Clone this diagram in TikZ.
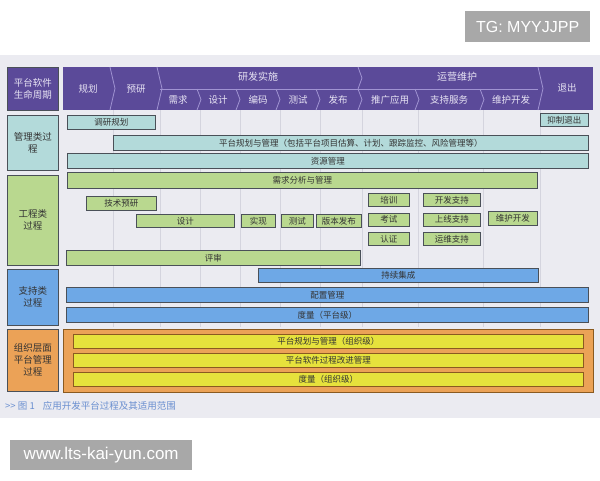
\documentclass[tikz,border=0pt]{standalone}
\usepackage{fontspec}
\setmainfont{Noto Sans CJK SC}
\newfontfamily\wmfont{Liberation Sans}
\usepackage{xcolor}
\definecolor{photobg}{HTML}{EBEBF1}
\definecolor{gridcol}{HTML}{D4D4DE}
\definecolor{hdrfill}{HTML}{5B4A99}
\definecolor{hdrsep}{HTML}{A093D2}
\definecolor{hdrtext}{HTML}{E8E4F4}
\definecolor{mgtfill}{HTML}{B3DADA}
\definecolor{engfill}{HTML}{B9D88F}
\definecolor{supfill}{HTML}{6EA8E6}
\definecolor{orgfill}{HTML}{E6E23C}
\definecolor{orgbox}{HTML}{EBA257}
\definecolor{orgdark}{HTML}{8A5A20}
\definecolor{bardark}{HTML}{4A5058}
\definecolor{bartext}{HTML}{333333}
\definecolor{capcol}{HTML}{6A8FD0}
\definecolor{wmgray}{HTML}{A8A8A8}
\usepackage{tikz}
\usetikzlibrary{positioning}

\begin{document}
\begin{tikzpicture}[x=1pt,y=-1pt,
    bar/.style={draw=bardark, line width=.6pt, inner sep=0pt, anchor=north west, text=bartext, font=\fontsize{8.5}{9}\selectfont},
    mgt/.style={bar, fill=mgtfill},
    eng/.style={bar, fill=engfill},
    sup/.style={bar, fill=supfill},
    org/.style={bar, fill=orgfill, draw=orgdark},
    catbox/.style={draw=bardark, line width=.7pt, inner sep=0pt, anchor=north west, minimum width=51pt, align=center, text=bartext, font=\fontsize{9.5}{12}\selectfont},
    hdrtxt/.style={text=hdrtext, inner sep=0pt, font=\fontsize{9.5}{11}\selectfont},
    hdrline/.style={draw=hdrsep, line width=.8pt},
    gridline/.style={draw=gridcol, line width=.8pt},
    wmark/.style={fill=wmgray, text=white, inner sep=0pt, anchor=north west, minimum height=31pt}]
    \useasboundingbox (0,0) rectangle (600,480);

    % Photo background
    \fill[photobg] (0,55) rectangle (600,418);

    % Column lines
    \foreach \gx in {113,160,200,240,280,320,362,418,483,540} {
        \draw[gridline] (\gx,110) -- (\gx,327);
    }

    % Life cycle header
    \node[catbox, fill=hdrfill, text=hdrtext, minimum height=43pt] (lifecycle) at (7,67) {平台软件\\生命周期};
    \fill[hdrfill] (63,67) rectangle (593,110);
    \draw[hdrline] (160,89) -- (538,89);
    \foreach \cx in {110,157,538} {
        \draw[hdrline] (\cx,67) -- (\cx+5,88.5) -- (\cx,110);
    }
    \draw[hdrline] (358,67) -- (362,78) -- (358,89);
    \foreach \cx in {197,236,276,316,358,415,480} {
        \draw[hdrline] (\cx,89) -- (\cx+4,99.5) -- (\cx,110);
    }
    \node[hdrtxt] (plan) at (88,89) {规划};
    \node[hdrtxt] (prestudy) at (136,89) {预研};
    \node[hdrtxt, font=\fontsize{10}{11}\selectfont] (rnd) at (258,77) {研发实施};
    \node[hdrtxt, font=\fontsize{10}{11}\selectfont] (ops) at (457,77) {运营维护};
    \node[hdrtxt] (exit) at (567,88) {退出};
    \foreach \nm/\hx/\word in {req/178/需求, des/218/设计, code/258/编码, test/298/测试, rel/338/发布, promo/390/推广应用, svc/449/支持服务, maint/511/维护开发} {
        \node[hdrtxt] (\nm) at (\hx,99.5) {\word};
    }

    % Process categories
    \node[catbox, fill=mgtfill, minimum height=55pt] (mgtcat) at (7,115) {管理类过\\程};
    \node[catbox, fill=engfill, minimum height=90pt] (engcat) at (7,175) {工程类\\过程};
    \node[catbox, fill=supfill, minimum height=56pt] (supcat) at (7,269) {支持类\\过程};
    \node[catbox, fill=orgbox, minimum height=62pt] (orgcat) at (7,329) {组织层面\\平台管理\\过程};

    % Management processes
    \node[mgt, minimum width=88pt, minimum height=14pt] (survey) at (67,115) {调研规划};
    \node[mgt, minimum width=48pt, minimum height=13pt] (retire) at (540,113) {抑制退出};
    \node[mgt, minimum width=475pt, minimum height=15pt] (platplan) at (113,135) {平台规划与管理（包括平台项目估算、计划、跟踪监控、风险管理等）};
    \node[mgt, minimum width=521pt, minimum height=15pt] (resmgmt) at (67,153) {资源管理};

    % Engineering processes
    \node[eng, minimum width=470pt, minimum height=16pt] (reqmgmt) at (67,172) {需求分析与管理};
    \node[eng, minimum width=70pt, minimum height=14pt] (techpre) at (86,196) {技术预研};
    \foreach \nm/\bx/\bw/\word in {design/136/98/设计, impl/241/34/实现, testing/281/32/测试, release/316/45/版本发布} {
        \node[eng, minimum width=\bw pt, minimum height=13pt] (\nm) at (\bx,214) {\word};
    }
    \node[eng, minimum width=41pt, minimum height=13pt] (train) at (368,193) {培训};
    \node[eng, minimum width=41pt, minimum height=13pt, below=6pt of train.south west, anchor=north west] (exam) {考试};
    \node[eng, minimum width=41pt, minimum height=13pt, below=6pt of exam.south west, anchor=north west] (cert) {认证};
    \node[eng, minimum width=57pt, minimum height=13pt] (devsup) at (423,193) {开发支持};
    \node[eng, minimum width=57pt, minimum height=13pt, below=6pt of devsup.south west, anchor=north west] (golive) {上线支持};
    \node[eng, minimum width=57pt, minimum height=13pt, below=6pt of golive.south west, anchor=north west] (opsup) {运维支持};
    \node[eng, minimum width=49pt, minimum height=14pt] (maintdev) at (488,211) {维护开发};
    \node[eng, minimum width=294pt, minimum height=15pt] (review) at (66,250) {评审};

    % Support processes
    \node[sup, minimum width=280pt, minimum height=14pt] (ci) at (258,268) {持续集成};
    \node[sup, minimum width=522pt, minimum height=15pt] (cfgmgmt) at (66,287) {配置管理};
    \node[sup, minimum width=522pt, minimum height=15pt] (platmetric) at (66,307) {度量（平台级）};

    % Organisation level processes
    \node[draw=orgdark, fill=orgbox, line width=.7pt, inner sep=0pt, anchor=north west, minimum width=530pt, minimum height=63pt] (orgarea) at (63,329) {};
    \node[org, minimum width=510pt, minimum height=14pt] (orgplan) at (73,334) {平台规划与管理（组织级）};
    \node[org, minimum width=510pt, minimum height=14pt] (spi) at (73,353) {平台软件过程改进管理};
    \node[org, minimum width=510pt, minimum height=14pt] (orgmetric) at (73,372) {度量（组织级）};

    % Caption
    \node[anchor=west, inner sep=0pt, text=capcol, font=\fontsize{9.5}{11}\selectfont] (caption) at (5,406) {>{}> 图 1\hspace{8pt}应用开发平台过程及其适用范围};

    % Watermarks
    \node[wmark, minimum width=125pt, font=\wmfont\fontsize{16}{18}\selectfont] (tgmark) at (465,11) {TG: MYYJJPP};
    \node[wmark, minimum width=182pt, minimum height=30pt, font=\wmfont\fontsize{17}{19}\selectfont] (sitemark) at (10,440) {www.lts-kai-yun.com};
\end{tikzpicture}
\end{document}
